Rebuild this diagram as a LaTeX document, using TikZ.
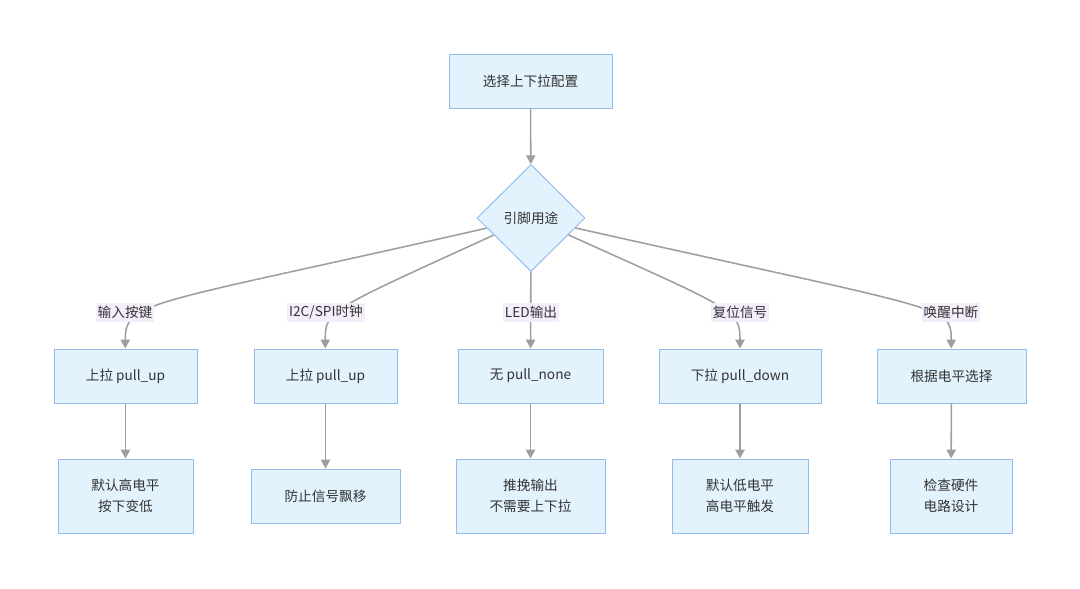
\documentclass[tikz,border=0pt]{standalone}
\usepackage{fontspec}
\setmainfont{Noto Sans CJK SC}
\usetikzlibrary{shapes.geometric,arrows.meta}
\definecolor{boxfill}{HTML}{E3F3FD}
\definecolor{boxline}{HTML}{94BDEB}
\definecolor{edgegray}{HTML}{9E9E9E}
\definecolor{lblfill}{HTML}{F3EEFA}
\definecolor{txt}{HTML}{333333}
\newdimen\px \px=0.025cm
\begin{document}
\begin{tikzpicture}[x=0.025cm, y=-0.025cm,
    font=\fontsize{9.7pt}{14.9pt}\selectfont, text=txt,
    box/.style={draw=boxline, fill=boxfill, line width=0.7pt, align=center,
        minimum height=54\px, inner sep=0pt},
    choice/.style={draw=boxline, fill=boxfill, line width=0.7pt, diamond, aspect=1,
        minimum width=108\px, minimum height=107\px, inner sep=0pt},
    lbl/.style={fill=lblfill, inner xsep=2\px, inner ysep=0pt, minimum height=19\px},
    edge/.style={draw=edgegray, line width=1.1pt, -{Triangle[length=2.2mm,width=2.3mm]}}]
    \useasboundingbox (0,0) rectangle (1080,588);

    \node[box, minimum width=163\px] (start) at (530.5,81) {选择上下拉配置};
    \node[choice] (usage) at (531,218) {引脚用途};

    \node[box, minimum width=143\px] (key) at (125.5,376) {上拉 pull\_up};
    \node[box, minimum width=143\px] (bus) at (325.5,376) {上拉 pull\_up};
    \node[box, minimum width=145\px] (led) at (530.5,376) {无 pull\_none};
    \node[box, minimum width=162\px] (rst) at (740,376) {下拉 pull\_down};
    \node[box, minimum width=149\px] (wake) at (951.5,376) {根据电平选择};

    \node[box, minimum width=135\px, minimum height=74\px] (keynote) at (125.5,496) {默认高电平\\按下变低};
    \node[box, minimum width=149\px] (busnote) at (325.5,496) {防止信号飘移};
    \node[box, minimum width=149\px, minimum height=74\px] (lednote) at (530.5,496) {推挽输出\\不需要上下拉};
    \node[box, minimum width=136\px, minimum height=74\px] (rstnote) at (740,496) {默认低电平\\高电平触发};
    \node[box, minimum width=122\px, minimum height=74\px] (wakenote) at (951,496) {检查硬件\\电路设计};

    \draw[edge] (start) -- (usage);
    \draw[edge] (usage) .. controls (150,305) and (125,300) .. (key);
    \draw[edge] (usage) .. controls (330,310) and (325,310) .. (bus);
    \draw[edge] (usage) -- (led);
    \draw[edge] (usage) .. controls (735,310) and (740,310) .. (rst);
    \draw[edge] (usage) .. controls (950,312) and (951,305) .. (wake);

    \node[lbl] (lkey) at (125,312) {输入按键};
    \node[lbl] (lbus) at (326,312) {I2C/SPI时钟};
    \node[lbl] (lled) at (531,312) {LED输出};
    \node[lbl] (lrst) at (740,312) {复位信号};
    \node[lbl] (lwake) at (951,312) {唤醒中断};

    \draw[edge] (key) -- (keynote);
    \draw[edge] (bus) -- (busnote);
    \draw[edge] (led) -- (lednote);
    \draw[edge] (rst) -- (rstnote);
    \draw[edge] (wake) -- (wakenote);
\end{tikzpicture}
\end{document}
